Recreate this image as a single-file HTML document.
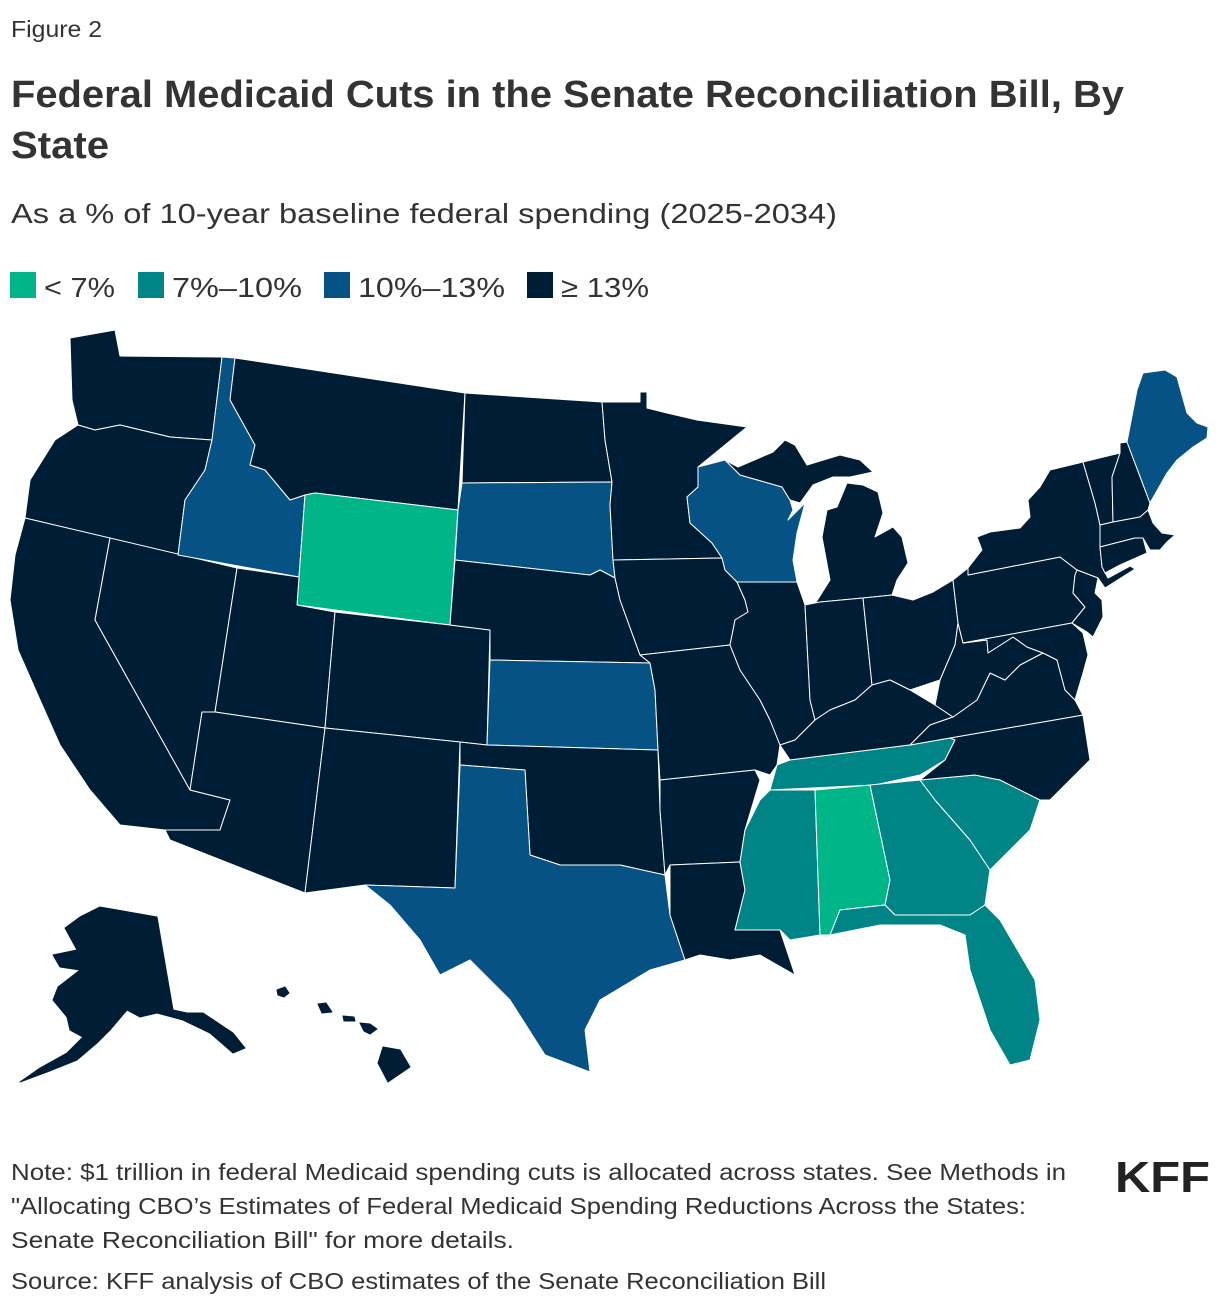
<!DOCTYPE html>
<html><head><meta charset="utf-8"><style>
html,body{margin:0;padding:0;background:#fff;}
svg{display:block;font-family:"Liberation Sans",sans-serif;}
</style></head><body>
<svg id="fig" width="1220" height="1310" viewBox="0 0 1220 1310">
<text x="11" y="37" font-size="23" fill="#333" textLength="91" lengthAdjust="spacingAndGlyphs">Figure 2</text>
<text x="11" y="107" font-size="38" font-weight="bold" fill="#333" textLength="1113" lengthAdjust="spacingAndGlyphs">Federal Medicaid Cuts in the Senate Reconciliation Bill, By</text>
<text x="11" y="158" font-size="38" font-weight="bold" fill="#333" textLength="98" lengthAdjust="spacingAndGlyphs">State</text>
<text x="11" y="223" font-size="28" fill="#333" textLength="826" lengthAdjust="spacingAndGlyphs">As a % of 10-year baseline federal spending (2025-2034)</text>
<g id="legend"></g>
<g id="map"></g>
<text x="11" y="1180" font-size="23" fill="#333" textLength="1055" lengthAdjust="spacingAndGlyphs">Note: $1 trillion in federal Medicaid spending cuts is allocated across states. See Methods in</text>
<text x="11" y="1214" font-size="23" fill="#333" textLength="1015" lengthAdjust="spacingAndGlyphs">"Allocating CBO’s Estimates of Federal Medicaid Spending Reductions Across the States:</text>
<text x="11" y="1248" font-size="23" fill="#333" textLength="503" lengthAdjust="spacingAndGlyphs">Senate Reconciliation Bill" for more details.</text>
<text x="11" y="1289" font-size="23" fill="#333" textLength="815" lengthAdjust="spacingAndGlyphs">Source: KFF analysis of CBO estimates of the Senate Reconciliation Bill</text>
<text x="1115" y="1192" font-size="44" font-weight="bold" fill="#222" textLength="95" lengthAdjust="spacingAndGlyphs">KFF</text>
</svg>
<script>
const legendLabels = ["< 7%", "7%–10%", "10%–13%", "≥ 13%"];
const legendColors = ["#00b587", "#008485", "#075284", "#001d36"];
const states = ["WA","OR","CA","NV","ID","MT","WY","UT","AZ","CO","NM","ND","SD","NE","KS","OK","TX","MN","IA","MO","AR","LA","WI","IL","MI","MIU","IN","OH","KY","TN","MS","AL","GA","FL","SC","NC","VA","WV","PA","NY","VT","NH","ME","MA","CT","NJ","MD","AK","HI","HI2","HI3","HI4","HI5"];
const category = [3,3,3,3,2,3,0,3,3,3,3,3,2,3,2,3,2,3,3,3,3,3,2,3,3,3,3,3,3,1,1,0,1,1,1,3,3,3,3,3,3,3,2,3,3,3,3,3,3,3,3,3,3];

const geo = {
WA:[[70,338],[115,330],[120,356],[222,357],[212,440],[170,437],[120,425],[95,430],[78,425],[72,400]],
OR:[[78,425],[95,430],[120,425],[170,437],[212,440],[205,470],[185,500],[178,555],[25,518],[30,480],[55,440]],
CA:[[25,518],[110,538],[95,620],[190,790],[230,800],[220,830],[165,830],[120,825],[90,790],[60,745],[40,700],[18,650],[10,600],[15,555]],
NV:[[110,538],[237,568],[215,712],[202,712],[190,790],[95,620]],
ID:[[222,357],[235,358],[230,400],[255,445],[250,465],[265,470],[290,500],[305,495],[299,577],[178,555],[185,500],[205,470],[212,440]],
MT:[[235,358],[465,393],[458,510],[315,493],[305,495],[290,500],[265,470],[250,465],[255,445],[230,400]],
WY:[[315,493],[458,510],[450,625],[297,605],[299,577],[305,495]],
UT:[[237,568],[299,577],[297,605],[335,612],[325,728],[215,712]],
AZ:[[215,712],[325,728],[305,893],[170,840],[165,830],[220,830],[230,800],[190,790],[202,712]],
CO:[[335,612],[450,625],[490,630],[487,745],[460,742],[325,728]],
NM:[[325,728],[460,742],[455,888],[365,885],[305,893]],
ND:[[465,393],[602,402],[605,440],[612,482],[462,483]],
SD:[[462,483],[612,482],[610,505],[613,560],[615,578],[600,570],[590,575],[455,560],[458,510]],
NE:[[455,560],[590,575],[600,570],[615,578],[620,600],[640,655],[650,663],[490,660],[490,630],[450,625]],
KS:[[490,660],[650,663],[655,690],[658,750],[487,745]],
OK:[[460,742],[487,745],[658,750],[660,810],[665,875],[620,865],[560,865],[530,855],[525,770],[460,765]],
TX:[[460,765],[525,770],[530,855],[560,865],[620,865],[665,875],[670,915],[685,960],[650,970],[600,1000],[585,1030],[590,1072],[545,1055],[510,1000],[470,960],[440,975],[420,940],[390,905],[365,885],[455,888]],
MN:[[602,402],[640,402],[640,392],[647,392],[647,408],[667,413],[697,420],[747,427],[698,467],[698,487],[687,497],[690,523],[712,543],[722,558],[613,560],[610,505],[612,482],[605,440]],
IA:[[613,560],[722,558],[725,570],[737,582],[745,600],[748,612],[735,620],[730,645],[640,655],[620,600],[615,578]],
MO:[[640,655],[730,645],[740,670],[760,700],[770,720],[780,745],[777,765],[770,775],[755,770],[660,780],[658,750],[655,690],[650,663]],
AR:[[660,780],[755,770],[760,780],[745,830],[740,862],[670,865],[665,875],[660,810]],
LA:[[670,865],[740,862],[745,890],[735,930],[780,930],[795,975],[760,955],[730,960],[700,955],[685,960],[670,915]],
WI:[[698,467],[725,460],[740,475],[782,487],[790,500],[793,510],[788,520],[805,503],[797,533],[793,560],[797,582],[737,582],[725,570],[722,558],[712,543],[690,523],[687,497],[698,487]],
IL:[[737,582],[797,582],[805,605],[810,700],[815,720],[795,740],[780,745],[770,720],[760,700],[740,670],[730,645],[735,620],[748,612],[745,600]],
MI:[[813,607],[830,580],[822,537],[827,510],[837,507],[847,483],[863,485],[878,492],[883,513],[875,537],[893,527],[902,537],[908,563],[897,580],[892,595],[863,598],[820,602]],
MIU:[[725,460],[738,467],[773,452],[785,440],[795,445],[807,465],[840,455],[860,460],[873,472],[850,477],[833,477],[813,485],[800,503],[790,500],[782,487],[740,475]],
IN:[[805,605],[820,602],[863,598],[872,685],[855,700],[830,710],[815,720],[810,700]],
OH:[[863,598],[892,595],[913,600],[933,592],[953,580],[958,623],[955,645],[940,680],[910,690],[890,680],[872,685]],
KY:[[815,720],[830,710],[855,700],[872,685],[890,680],[910,690],[935,705],[953,717],[930,725],[910,745],[790,760],[780,745],[795,740]],
TN:[[790,760],[910,745],[950,738],[955,740],[945,760],[920,775],[875,785],[770,790],[777,765]],
MS:[[770,790],[815,790],[820,935],[790,940],[780,930],[735,930],[745,890],[740,862],[745,830],[760,800]],
AL:[[815,790],[870,785],[890,880],[885,905],[840,910],[830,935],[820,935]],
GA:[[870,785],[920,780],[935,800],[970,840],[990,870],[985,905],[970,915],[895,915],[885,905],[890,880]],
FL:[[830,935],[840,910],[885,905],[895,915],[970,915],[985,905],[1000,920],[1035,980],[1040,1020],[1030,1060],[1010,1065],[990,1030],[970,970],[965,935],[940,925],[880,925]],
SC:[[920,780],[975,775],[1000,780],[1040,800],[1030,830],[1000,860],[990,870],[970,840],[935,800]],
NC:[[950,738],[1083,715],[1090,760],[1050,800],[1040,800],[1000,780],[975,775],[920,780],[945,760],[955,740]],
VA:[[953,717],[977,700],[990,673],[1005,680],[1020,665],[1043,653],[1057,660],[1065,690],[1075,700],[1083,715],[950,738],[910,745],[930,725]],
WV:[[958,623],[963,643],[987,640],[988,653],[1013,637],[1027,647],[1043,653],[1020,665],[1005,680],[990,673],[977,700],[953,717],[935,705],[940,680],[955,645]],
PA:[[953,580],[968,568],[968,575],[1060,557],[1077,570],[1075,575],[1073,593],[1085,607],[1072,623],[963,643],[958,623]],
NY:[[968,568],[982,550],[977,537],[990,532],[1020,528],[1030,517],[1028,500],[1040,487],[1050,470],[1083,462],[1095,503],[1100,525],[1100,547],[1102,567],[1108,578],[1130,566],[1135,569],[1105,588],[1098,578],[1077,570],[1060,557],[968,575]],
VT:[[1083,462],[1120,453],[1112,477],[1113,522],[1100,525],[1095,503]],
NH:[[1120,453],[1120,443],[1127,442],[1150,503],[1148,510],[1140,517],[1113,522],[1112,477]],
ME:[[1127,442],[1137,390],[1143,373],[1165,370],[1177,377],[1187,413],[1197,423],[1208,427],[1207,438],[1193,447],[1177,460],[1167,473],[1150,503]],
MA:[[1100,525],[1113,522],[1140,517],[1148,510],[1153,523],[1162,533],[1175,535],[1167,542],[1160,550],[1150,550],[1143,538],[1135,538],[1100,547]],
CT:[[1100,547],[1135,538],[1143,538],[1147,553],[1120,565],[1105,573],[1102,567]],
NJ:[[1077,570],[1098,578],[1095,593],[1102,600],[1103,617],[1093,637],[1087,632],[1072,623],[1085,607],[1073,593],[1075,575]],
MD:[[963,643],[1072,623],[1083,633],[1088,655],[1083,673],[1075,700],[1065,690],[1057,660],[1043,653],[1027,647],[1013,637],[988,653],[987,640]],
AK:[[100,907],[157,917],[173,1010],[187,1013],[203,1013],[233,1033],[245,1048],[233,1053],[210,1033],[183,1020],[157,1013],[140,1017],[127,1010],[110,1030],[97,1043],[77,1060],[47,1072],[20,1082],[40,1068],[67,1053],[83,1037],[70,1030],[67,1017],[53,1000],[58,987],[80,970],[60,967],[53,955],[77,950],[65,928],[80,917]],
HI:[[383,1047],[400,1050],[410,1067],[388,1082],[378,1063]],
HI2:[[277,990],[285,987],[289,993],[284,997],[278,995]],
HI3:[[318,1004],[326,1003],[332,1012],[322,1013]],
HI4:[[343,1016],[354,1017],[355,1021],[344,1021]],
HI5:[[360,1023],[370,1024],[377,1029],[370,1034],[364,1031]]
};

const map = document.getElementById('map');
const NS = 'http://www.w3.org/2000/svg';
for (let i = 0; i < states.length; i++) {
  const p = document.createElementNS(NS, 'polygon');
  p.setAttribute('points', geo[states[i]].map(q => q.join(',')).join(' '));
  p.setAttribute('fill', legendColors[category[i]]);
  p.setAttribute('stroke', states[i].startsWith('HI') || states[i] === 'AK' ? legendColors[category[i]] : '#fff');
  p.setAttribute('stroke-width', '1');
  p.setAttribute('stroke-linejoin', 'round');
  
  
  map.appendChild(p);
}

const legend = document.getElementById('legend');
const legendX = [10, 138, 324, 527];
const legendTW = [71, 130, 147, 88];
for (let i = 0; i < legendLabels.length; i++) {
  const r = document.createElementNS(NS, 'rect');
  r.setAttribute('x', legendX[i]); r.setAttribute('y', 272);
  r.setAttribute('width', 26); r.setAttribute('height', 26);
  r.setAttribute('fill', legendColors[i]);
  
  
  legend.appendChild(r);
  const t = document.createElementNS(NS, 'text');
  t.setAttribute('x', legendX[i] + 34); t.setAttribute('y', 297);
  t.setAttribute('font-size', '28'); t.setAttribute('fill', '#333');
  t.setAttribute('textLength', legendTW[i]);
  t.setAttribute('lengthAdjust', 'spacingAndGlyphs');
  t.textContent = legendLabels[i];
  
  
  legend.appendChild(t);
}
</script>
</body></html>
